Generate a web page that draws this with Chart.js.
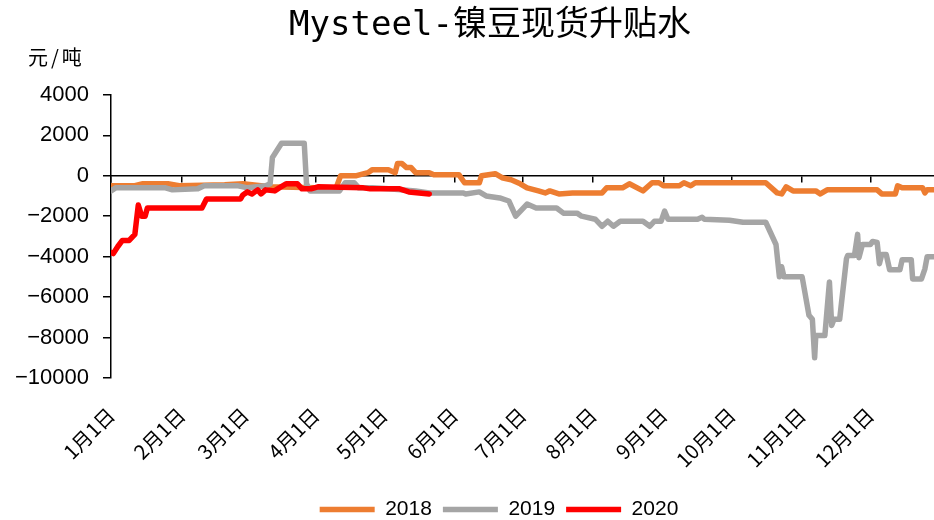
<!DOCTYPE html>
<html>
<head>
<meta charset="utf-8">
<script src="https://cdn.jsdelivr.net/npm/chart.js@4"></script>
<style>
  html, body { margin: 0; padding: 0; background: #fff; }
  #wrap { width: 934px; height: 520px; }
</style>
</head>
<body>
<div id="wrap"><canvas id="c"></canvas></div>
<script>
// day of year where each month starts, and its label
const monthStarts = [0, 31, 59, 90, 120, 151, 181, 212, 243, 273, 304, 334];
const monthLabels = ['1月1日', '2月1日', '3月1日', '4月1日', '5月1日', '6月1日',
  '7月1日', '8月1日', '9月1日', '10月1日', '11月1日', '12月1日'];

// [day of year, 元/吨]
const points2018 = [
  [0, -500], [10, -500], [14, -400], [25, -400], [30, -500], [50, -450], [58, -400],
  [70, -550], [90, -600], [99, -600], [101, 0], [108, 0], [113, 150], [115, 300],
  [122, 300], [125, 150], [126, 600], [128, 600], [130, 400], [132, 400], [134, 150],
  [140, 150], [142, 50], [153, 50], [155.5, -350], [162, -350], [163, 0], [169, 100],
  [172, -100], [176, -200], [180, -400], [183, -600], [188, -750], [191, -850],
  [193, -750], [197, -900], [203, -850], [216, -850], [218, -600], [225, -600],
  [228, -400], [234, -750], [238, -350], [241, -350], [243, -500], [250, -500],
  [252, -350], [255, -500], [257, -350], [288, -350], [293, -850], [295, -900],
  [297, -550], [300, -750], [310, -750], [312, -900], [315, -700], [337, -700],
  [339, -900], [345, -900], [346, -500], [348, -600], [357, -600], [358, -850],
  [359, -700], [362, -700]
];
const points2019 = [
  [0, -750], [2, -600], [24, -600], [27, -700], [38, -650], [41, -500], [56, -500],
  [60, -600], [64, -550], [68, -500], [70, -400], [71, 900], [75, 1600], [85, 1600],
  [86, -400], [87.5, -750], [100.5, -750], [103, -350], [107, -350], [109, -600],
  [115, -600], [122, -650], [134, -750], [140, -850], [155, -850], [156, -900],
  [162, -800], [165, -1000], [171, -1100], [175, -1250], [178, -2000], [183, -1400],
  [187, -1600], [196, -1600], [199, -1850], [205, -1850], [207, -2000], [213, -2150],
  [216, -2500], [218.5, -2250], [221, -2500], [224, -2250], [234, -2250], [237, -2500],
  [239, -2250], [242, -2250], [243.5, -1750], [245, -2150], [258, -2150], [260, -2050],
  [261, -2150], [272, -2200], [278, -2300], [288, -2300], [292.5, -3400], [294, -5000],
  [295, -4500], [296, -5000], [304, -5000], [307, -6900], [308.5, -7100], [309.5, -9000],
  [310, -7900], [314, -7900], [316, -5250], [317, -7400], [318, -7100], [320.5, -7100],
  [323.5, -4100], [324, -3950], [327, -3950], [328.4, -2900], [329, -4050], [330.5, -3400],
  [334, -3400], [335, -3250], [337, -3300], [338, -4350], [339, -3900], [341, -3900],
  [342.5, -4650], [347, -4650], [348, -4150], [352, -4150], [352.6, -5100], [356.5, -5100],
  [358, -4600], [359, -4000], [362, -4000]
];
const points2020 = [
  [0, -3800], [1, -3850], [3, -3500], [5, -3200], [8, -3200], [10.5, -2900], [12, -1450],
  [13.5, -2000], [15, -2000], [16, -1600], [40, -1600], [42, -1150], [57, -1150],
  [58, -950], [60, -800], [62, -900], [64.5, -700], [66, -900], [68, -700], [72, -750],
  [74, -600], [77, -400], [82, -400], [84, -650], [88, -650], [91, -550], [111, -600],
  [114, -650], [127, -650], [131, -800], [140, -900]
];

const toXY = pts => pts.map(p => ({ x: p[0], y: p[1] }));

function line(label, pts, color, order) {
  return {
    label: label,
    data: toXY(pts),
    borderColor: color,
    backgroundColor: color,
    borderWidth: 5.5,
    borderCapStyle: 'round',
    borderJoinStyle: 'round',
    pointRadius: 0,
    tension: 0,
    order: order
  };
}

const monthTicks = axis => { axis.ticks = monthStarts.map(v => ({ value: v })); };

// unit text above the y axis
const unitLabel = {
  id: 'unitLabel',
  afterDraw(chart) {
    const ctx = chart.ctx;
    const area = chart.chartArea;
    ctx.save();
    ctx.font = '20px "Noto Sans CJK SC"';
    ctx.letterSpacing = '3px';
    ctx.fillStyle = '#000';
    ctx.textAlign = 'left';
    ctx.textBaseline = 'middle';
    ctx.fillText('元/吨', area.left - 83, area.top - 37);
    ctx.restore();
  }
};

// title and legend sit a little right of the canvas centre in the original
const nudgeBoxes = {
  id: 'nudgeBoxes',
  afterLayout(chart) {
    const t = chart.titleBlock;
    t.left += 23; t.right += 23;
    const l = chart.legend;
    l.left += 32; l.right += 32;
    l.top += 10; l.bottom += 10;
  }
};

new Chart(document.getElementById('c'), {
  type: 'line',
  data: {
    datasets: [
      line('2018', points2018, '#ED7D31', 3),
      line('2019', points2019, '#A5A5A5', 2),
      line('2020', points2020, '#FF0000', 1)
    ]
  },
  options: {
    responsive: true,
    maintainAspectRatio: false,
    animation: false,
    layout: { padding: { left: 0, right: 0, top: 0, bottom: 0 } },
    plugins: {
      title: {
        display: true,
        text: 'Mysteel-镍豆现货升贴水',
        color: '#000',
        font: { family: '"DejaVu Sans Mono", "Noto Sans CJK SC"', size: 34, weight: 'normal' },
        padding: { top: 6, bottom: 48 }
      },
      legend: {
        position: 'bottom',
        labels: {
          color: '#000',
          font: { family: '"Liberation Sans"', size: 21 },
          usePointStyle: true,
          pointStyle: 'line',
          pointStyleWidth: 55,
          padding: 11,
          sort: (a, b) => a.datasetIndex - b.datasetIndex
        }
      },
      tooltip: { enabled: false }
    },
    scales: {
      x: {
        type: 'linear',
        min: 0,
        max: 362,
        position: 'bottom',
        afterBuildTicks: monthTicks,
        afterFit: scale => { scale.height = 100; },
        border: { display: false },
        grid: { display: false, drawTicks: false },
        ticks: {
          autoSkip: false,
          minRotation: 45,
          maxRotation: 45,
          padding: 25,
          color: '#000',
          font: { family: '"Noto Sans CJK SC"', size: 20 },
          callback: (v, i) => monthLabels[i]
        }
      },
      x0: {
        type: 'linear',
        min: 0,
        max: 362,
        position: { y: 0 },
        afterBuildTicks: monthTicks,
        border: { display: true, color: '#000', width: 1.5 },
        grid: { drawOnChartArea: false, drawTicks: true, tickLength: 6, color: '#000', lineWidth: 1.5 },
        ticks: { display: false }
      },
      y: {
        min: -10000,
        max: 4000,
        afterFit: scale => { scale.width = 111; },
        border: { display: true, color: '#000', width: 1.5 },
        grid: { drawOnChartArea: false, drawTicks: true, tickLength: 8, color: '#000', lineWidth: 1.5 },
        ticks: {
          stepSize: 2000,
          padding: 14,
          color: '#000',
          font: { family: '"Liberation Sans"', size: 22 },
          callback: v => (v < 0 ? '\u2212' + Math.abs(v) : String(v))
        }
      }
    }
  },
  plugins: [unitLabel, nudgeBoxes]
});
</script>
</body>
</html>
